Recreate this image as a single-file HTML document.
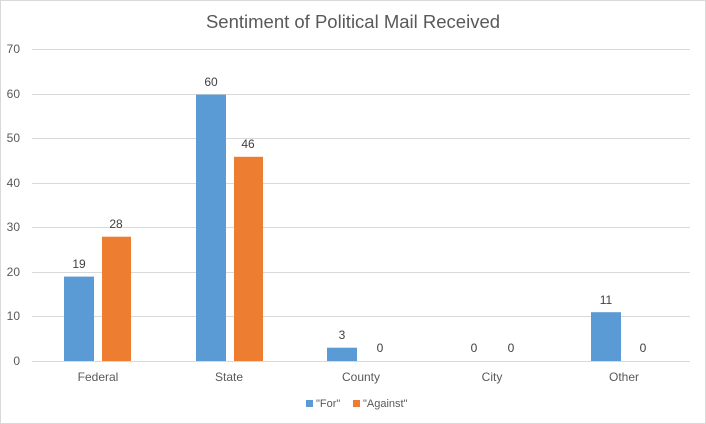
<!DOCTYPE html>
<html><head><style>
body{margin:0;background:#fff;}
svg{display:block;font-family:"Liberation Sans",sans-serif;}
</style></head><body>
<svg width="706" height="424" viewBox="0 0 706 424" xmlns="http://www.w3.org/2000/svg">
<rect x="0.5" y="0.5" width="705" height="423" fill="#fff" stroke="#d9d9d9"/>
<text x="353" y="28" text-anchor="middle" font-size="18.5" fill="#595959">Sentiment of Political Mail Received</text>
<g stroke="#d9d9d9" stroke-width="1">
<line x1="32" x2="690" y1="49.5" y2="49.5"/>
<line x1="32" x2="690" y1="94.5" y2="94.5"/>
<line x1="32" x2="690" y1="138.5" y2="138.5"/>
<line x1="32" x2="690" y1="183.5" y2="183.5"/>
<line x1="32" x2="690" y1="227.5" y2="227.5"/>
<line x1="32" x2="690" y1="272.5" y2="272.5"/>
<line x1="32" x2="690" y1="316.5" y2="316.5"/>
<line x1="32" x2="690" y1="361.5" y2="361.5"/>
</g>
<g font-size="12" fill="#595959" text-anchor="end">
<text x="20" y="53">70</text><text x="20" y="98">60</text><text x="20" y="142">50</text>
<text x="20" y="187">40</text><text x="20" y="231">30</text><text x="20" y="276">20</text>
<text x="20" y="320">10</text><text x="20" y="365">0</text>
</g>
<g fill="#5b9bd5">
<rect x="64" y="276.6" width="30" height="84.4"/>
<rect x="196" y="94.6" width="30" height="266.4"/>
<rect x="327" y="347.7" width="30" height="13.3"/>
<rect x="591" y="312.2" width="30" height="48.8"/>
</g>
<g fill="#ed7d31">
<rect x="102" y="236.7" width="29" height="124.3"/>
<rect x="234" y="156.8" width="29" height="204.2"/>
</g>
<g font-size="12" fill="#404040" text-anchor="middle">
<text x="79" y="268">19</text><text x="116" y="228">28</text>
<text x="211" y="86">60</text><text x="248" y="148">46</text>
<text x="342" y="339">3</text><text x="380" y="352">0</text>
<text x="474" y="352">0</text><text x="511" y="352">0</text>
<text x="606" y="304">11</text><text x="643" y="352">0</text>
</g>
<g font-size="12" fill="#595959" text-anchor="middle">
<text x="98" y="381">Federal</text><text x="229" y="381">State</text>
<text x="361" y="381">County</text><text x="492" y="381">City</text>
<text x="624" y="381">Other</text>
</g>
<rect x="306" y="400" width="7" height="7" fill="#5b9bd5"/>
<text x="316" y="407" font-size="11" fill="#595959">"For"</text>
<rect x="353" y="400" width="7" height="7" fill="#ed7d31"/>
<text x="363" y="407" font-size="11" fill="#595959">"Against"</text>
</svg>
</body></html>
